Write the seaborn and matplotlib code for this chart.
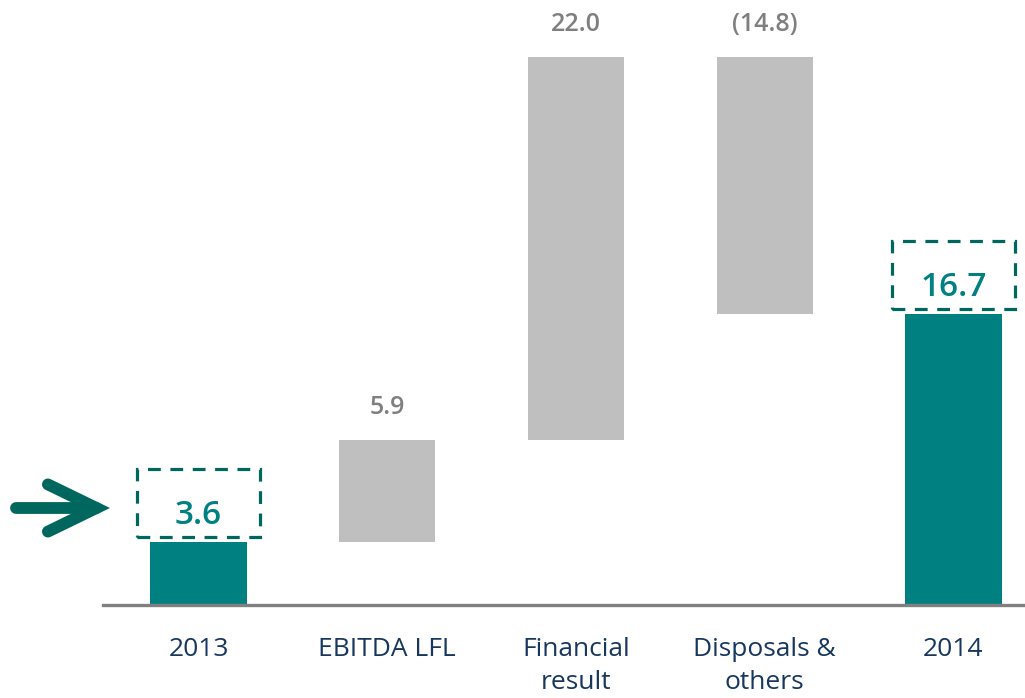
import matplotlib
matplotlib.use("Agg")
import matplotlib.pyplot as plt
import seaborn as sns
from matplotlib.patches import Rectangle

categories = ["2013", "EBITDA LFL", "Financial\nresult", "Disposals &\nothers", "2014"]
values = [3.6, 5.9, 22.0, -14.8, 16.7]
is_total = [True, False, False, False, True]
value_labels = ["3.6", "5.9", "22.0", "(14.8)", "16.7"]

bottoms, heights = [], []
run = 0.0
for v, t in zip(values, is_total):
    if t:
        bottoms.append(0.0)
        heights.append(v)
        run = v
    else:
        bottoms.append(run)
        heights.append(v)
        run += v

TEAL = "#008080"
DARK_TEAL = "#00675f"
GRAY = "#bfbfbf"
LABEL_GRAY = "#7f7f7f"
NAVY = "#17375e"

sns.set_theme(style="white")
plt.rcParams["font.family"] = ["Open Sans", "DejaVu Sans"]

fig = plt.figure(figsize=(10.25, 6.98), dpi=100)
ax = fig.add_axes([103 / 1025, 1 - 605 / 698, 922 / 1025, 605 / 698])

sns.barplot(x=categories, y=heights, bottom=bottoms, color=GRAY, width=0.51,
            order=categories, ax=ax, saturation=1)
for p, t in zip(ax.patches, is_total):
    p.set_facecolor(TEAL if t else GRAY)
    p.set_edgecolor("none")

ax.set_xlim(-0.506, 4.379)
ax.set_ylim(0, 605 / 17.4)

for s in ["top", "left", "right"]:
    ax.spines[s].set_visible(False)
ax.spines["bottom"].set_color("#808080")
ax.spines["bottom"].set_linewidth(2.4)
ax.set_yticks([])
ax.tick_params(axis="x", length=0, pad=23, labelsize=19, labelcolor=NAVY)
for lbl in ax.get_xticklabels():
    lbl.set_linespacing(1.45)
ax.set_xlabel("")
ax.set_ylabel("")

u = 1 / 17.4
for i, (b, h, t, lab) in enumerate(zip(bottoms, heights, is_total, value_labels)):
    top = max(b, b + h)
    if t:
        ax.text(i, top + 27 * u, lab, ha="center", va="center", fontsize=24,
                color=TEAL, fontweight="semibold")
        ax.add_patch(Rectangle((i - 0.326, top + 5 * u), 0.652, 68 * u,
                               fill=False, edgecolor=DARK_TEAL, linewidth=2.3,
                               linestyle=(0, (4, 3)), clip_on=False))
    else:
        ax.text(i, top + 32 * u, lab, ha="center", va="center", fontsize=18,
                color=LABEL_GRAY, fontweight="semibold")

ax.annotate("", xy=(110, 190), xytext=(16, 190), xycoords="figure pixels",
            textcoords="figure pixels",
            arrowprops=dict(arrowstyle="->,head_length=3.5,head_width=1.7",
                            mutation_scale=10, lw=8.5, color=DARK_TEAL,
                            shrinkA=0, shrinkB=0, capstyle="round",
                            joinstyle="miter"))

fig.savefig("out.png", dpi=100)
